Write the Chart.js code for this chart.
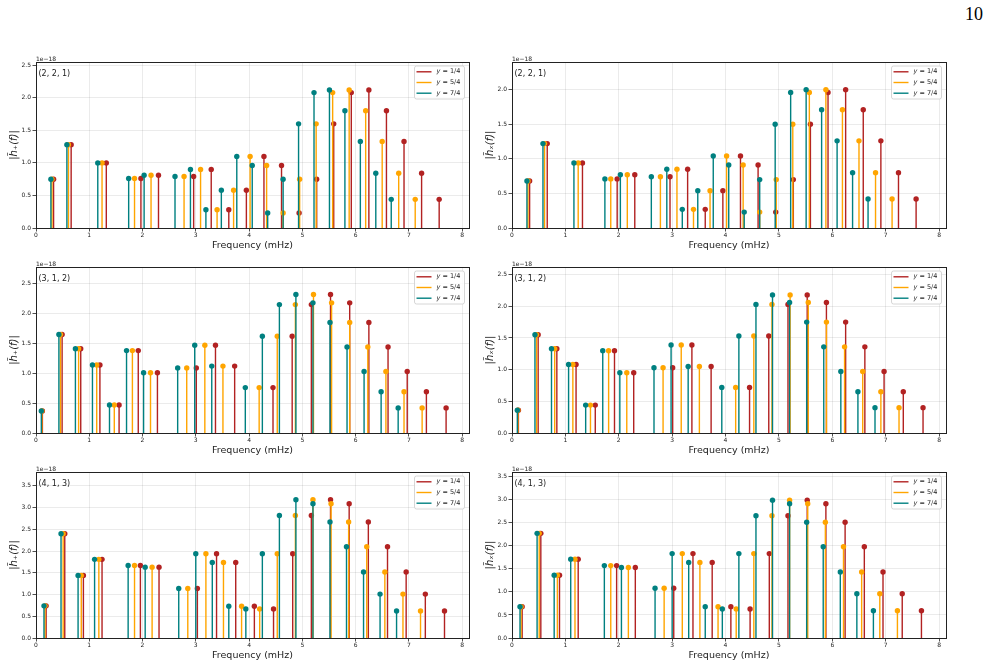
<!DOCTYPE html>
<html>
<head>
<meta charset="utf-8">
<script src="https://cdn.jsdelivr.net/npm/chart.js@4.4.1/dist/chart.umd.min.js"></script>
<style>
  html, body { margin: 0; padding: 0; background: #fff; width: 990px; height: 666px; overflow: hidden; position: relative; }
  .panel { position: absolute; }
  #page { position: absolute; right: 7px; top: 5px; font: 18px/18px "Liberation Serif", "DejaVu Serif", serif; color: #000; }
</style>
</head>
<body>
<div id="page">10</div>
<script>
// series labels and colours (legend order)
const seriesLabels = ["y = 1/4", "y = 5/4", "y = 7/4"];
const seriesColors = ["#b22222", "#ffa500", "#008080"];

// mode (2, 2, 1): frequencies in mHz
const f221_y14 = [0.33, 0.66, 1.32, 1.97, 2.30, 2.96, 3.29, 3.62, 3.95, 4.28, 4.61, 4.94, 5.27, 5.59, 5.92, 6.25, 6.58, 6.91, 7.24, 7.57];
const f221_y54 = [0.30, 0.61, 1.24, 1.85, 2.16, 2.78, 3.09, 3.40, 3.71, 4.02, 4.33, 4.64, 4.95, 5.26, 5.57, 5.88, 6.19, 6.50, 6.81, 7.12];
const f221_y74 = [0.28, 0.58, 1.16, 1.74, 2.03, 2.61, 2.90, 3.19, 3.48, 3.77, 4.06, 4.35, 4.64, 4.93, 5.22, 5.51, 5.80, 6.09, 6.38, 6.67];
// amplitudes (x 1e-18)
const a221_plus  = [0.75, 1.28, 1.00, 0.76, 0.81, 0.79, 0.90, 0.28, 0.58, 1.10, 0.96, 0.23, 0.75, 1.60, 2.08, 2.12, 1.80, 1.33, 0.84, 0.44];
const a221_cross = [0.68, 1.22, 0.94, 0.71, 0.77, 0.74, 0.85, 0.27, 0.54, 1.04, 0.91, 0.23, 0.70, 1.50, 1.96, 2.00, 1.71, 1.26, 0.80, 0.42];

// mode (3, 1, 2)
const f312_y14 = [0.12, 0.49, 0.84, 1.20, 1.56, 1.92, 2.28, 3.01, 3.37, 3.73, 4.45, 4.81, 5.17, 5.53, 5.89, 6.25, 6.61, 6.97, 7.33, 7.70];
const f312_y54 = [0.11, 0.46, 0.80, 1.14, 1.47, 1.81, 2.15, 2.83, 3.17, 3.51, 4.19, 4.53, 4.87, 5.21, 5.55, 5.89, 6.23, 6.57, 6.91, 7.25];
const f312_y74 = [0.10, 0.43, 0.74, 1.06, 1.38, 1.70, 2.02, 2.66, 2.98, 3.30, 3.93, 4.25, 4.57, 4.88, 5.20, 5.52, 5.84, 6.16, 6.48, 6.80];
const a312_plus  = [0.37, 1.65, 1.41, 1.14, 0.47, 1.38, 1.01, 1.09, 1.47, 1.12, 0.76, 1.62, 2.15, 2.32, 2.18, 1.85, 1.44, 1.03, 0.69, 0.42];
const a312_cross = [0.36, 1.55, 1.33, 1.08, 0.44, 1.30, 0.95, 1.03, 1.39, 1.05, 0.72, 1.53, 2.03, 2.18, 2.06, 1.75, 1.36, 0.97, 0.65, 0.40];

// mode (4, 1, 3)
const f413_y14 = [0.19, 0.54, 0.89, 1.24, 1.96, 2.31, 3.03, 3.39, 3.75, 4.10, 4.46, 4.82, 5.17, 5.53, 5.88, 6.24, 6.60, 6.95, 7.31, 7.67];
const f413_y54 = [0.17, 0.51, 0.85, 1.18, 1.85, 2.18, 2.85, 3.19, 3.52, 3.86, 4.20, 4.53, 4.87, 5.20, 5.54, 5.87, 6.21, 6.55, 6.89, 7.22];
const f413_y74 = [0.15, 0.47, 0.79, 1.10, 1.73, 2.05, 2.68, 3.00, 3.31, 3.62, 3.94, 4.25, 4.57, 4.88, 5.20, 5.52, 5.83, 6.15, 6.46, 6.77];
const a413_plus  = [0.74, 2.40, 1.44, 1.81, 1.67, 1.63, 1.14, 1.94, 1.74, 0.73, 0.67, 1.94, 2.82, 3.18, 3.09, 2.67, 2.10, 1.52, 1.01, 0.62];
const a413_cross = [0.68, 2.27, 1.36, 1.71, 1.57, 1.53, 1.08, 1.83, 1.64, 0.68, 0.63, 1.83, 2.65, 2.99, 2.91, 2.51, 1.98, 1.43, 0.96, 0.59];

const modeLabels = ["(2, 2, 1)", "(2, 2, 1)", "(3, 1, 2)", "(3, 1, 2)", "(4, 1, 3)", "(4, 1, 3)"];
const yTitles = ["|h\u0303\u208A(f)|", "|h\u0303\u2093(f)|", "|h\u0303\u208A(f)|", "|h\u0303\u2093(f)|", "|h\u0303\u208A(f)|", "|h\u0303\u2093(f)|"];
const yMax = [2.55, 2.40, 2.78, 2.62, 3.82, 3.60];
const xMax = 8.13;

const panelFreqs = [
  [f221_y14, f221_y54, f221_y74], [f221_y14, f221_y54, f221_y74],
  [f312_y14, f312_y54, f312_y74], [f312_y14, f312_y54, f312_y74],
  [f413_y14, f413_y54, f413_y74], [f413_y14, f413_y54, f413_y74]
];
const panelAmps = [a221_plus, a221_cross, a312_plus, a312_cross, a413_plus, a413_cross];

// layout of the 3x2 grid (page pixels)
const colCanvasLeft = [0, 476];
const colPlotRight = [469, 946];
const rowPlotTop = [62, 267, 472];
const plotH = 166, padTop = 14, padRight = 12, yAxisW = 36, xAxisH = 30;
const FONT = '"DejaVu Sans", sans-serif';

const decor = {
  id: 'decor',
  afterDatasetsDraw(chart, args, o) {
    const {ctx, chartArea: a} = chart;
    ctx.save();
    const al = v => Math.round(v - 0.5) + 0.5;
    ctx.strokeStyle = '#222';
    ctx.lineWidth = 1;
    ctx.strokeRect(al(a.left), al(a.top), al(a.right) - al(a.left), al(a.bottom) - al(a.top));

    ctx.fillStyle = '#222';
    ctx.textAlign = 'left';
    ctx.textBaseline = 'alphabetic';
    ctx.font = '6px ' + FONT;
    ctx.fillText('1e\u221218', a.left, a.top - 1.5);

    ctx.font = '8px ' + FONT;
    ctx.textBaseline = 'middle';
    ctx.fillText(o.mode, a.left + 2.5, a.top + 12);

    // legend box
    const bw = 50, bh = 33;
    const bx = a.right - 4.5 - bw, by = a.top + 4;
    ctx.beginPath();
    ctx.roundRect(bx, by, bw, bh, 2);
    ctx.fillStyle = 'rgba(255,255,255,0.85)';
    ctx.fill();
    ctx.strokeStyle = '#cccccc';
    ctx.lineWidth = 0.8;
    ctx.stroke();
    const items = chart.data.datasets.filter(d => d.type === 'line');
    items.forEach((d, i) => {
      const cy = by + 5.8 + i * 10.7;
      ctx.strokeStyle = d.borderColor;
      ctx.lineWidth = 1.4;
      ctx.beginPath();
      ctx.moveTo(bx + 2, cy);
      ctx.lineTo(bx + 17, cy);
      ctx.stroke();
      ctx.fillStyle = '#222';
      ctx.font = 'italic 6.5px ' + FONT;
      ctx.fillText('y', bx + 22, cy);
      const w = ctx.measureText('y').width;
      ctx.font = '6.5px ' + FONT;
      ctx.fillText(d.label.slice(1), bx + 22 + w, cy);
    });
    ctx.restore();
  }
};

function stemPoints(freqs, amps) {
  const pts = [];
  freqs.forEach((f, i) => {
    pts.push({x: f, y: 0}, {x: f, y: amps[i]}, {x: f, y: null});
  });
  return pts;
}

for (let p = 0; p < 6; p++) {
  const col = p % 2, row = Math.floor(p / 2);
  const left = colCanvasLeft[col];
  const top = rowPlotTop[row] - padTop;
  const width = colPlotRight[col] + padRight - left;
  const height = padTop + plotH + xAxisH;

  const box = document.createElement('div');
  box.className = 'panel';
  box.style.left = left + 'px';
  box.style.top = top + 'px';
  box.style.width = width + 'px';
  box.style.height = height + 'px';
  const cv = document.createElement('canvas');
  box.appendChild(cv);
  document.body.appendChild(box);

  const datasets = [];
  for (let s = 0; s < 3; s++) {
    const freqs = panelFreqs[p][s], amps = panelAmps[p];
    datasets.push({
      type: 'line',
      label: seriesLabels[s],
      data: stemPoints(freqs, amps),
      borderColor: seriesColors[s],
      borderWidth: 1.4,
      pointRadius: 0,
      spanGaps: false,
      order: 6 - 2 * s
    });
    datasets.push({
      type: 'scatter',
      label: seriesLabels[s] + ' markers',
      data: freqs.map((f, i) => ({x: f, y: amps[i]})),
      backgroundColor: seriesColors[s],
      borderWidth: 0,
      pointRadius: 2.7,
      order: 5 - 2 * s
    });
  }

  new Chart(cv, {
    type: 'scatter',
    data: {datasets},
    options: {
      responsive: true,
      maintainAspectRatio: false,
      animation: false,
      events: [],
      layout: {padding: {left: 0, top: padTop, right: padRight, bottom: 0}},
      plugins: {
        legend: {display: false},
        tooltip: {enabled: false},
        decor: {mode: modeLabels[p]}
      },
      scales: {
        x: {
          type: 'linear', min: 0, max: xMax,
          afterFit(s) { s.height = xAxisH; },
          ticks: {stepSize: 1, autoSkip: false, includeBounds: false, padding: 0.5,
                  font: {family: FONT, size: 6}, color: '#222',
                  callback: v => v.toFixed(0)},
          grid: {color: 'rgba(0,0,0,0.1)', lineWidth: 0.8, tickLength: 3.5, tickColor: '#222', tickWidth: 0.8},
          border: {color: '#222', width: 1},
          title: {display: true, text: 'Frequency (mHz)', font: {family: FONT, size: 9.5}, color: '#222',
                  padding: {top: 0, bottom: 7}}
        },
        y: {
          type: 'linear', min: 0, max: yMax[p],
          afterFit(s) { s.width = yAxisW; },
          ticks: {stepSize: 0.5, includeBounds: false, padding: 1.5,
                  font: {family: FONT, size: 6}, color: '#222',
                  callback: v => v.toFixed(1)},
          grid: {color: 'rgba(0,0,0,0.1)', lineWidth: 0.8, tickLength: 3.5, tickColor: '#222', tickWidth: 0.8},
          border: {color: '#222', width: 1},
          title: {display: true, text: yTitles[p], font: {family: FONT, size: 10, style: 'italic'}, color: '#222',
                  padding: {top: 8, bottom: 0}}
        }
      }
    },
    plugins: [decor]
  });
}
</script>
</body>
</html>
